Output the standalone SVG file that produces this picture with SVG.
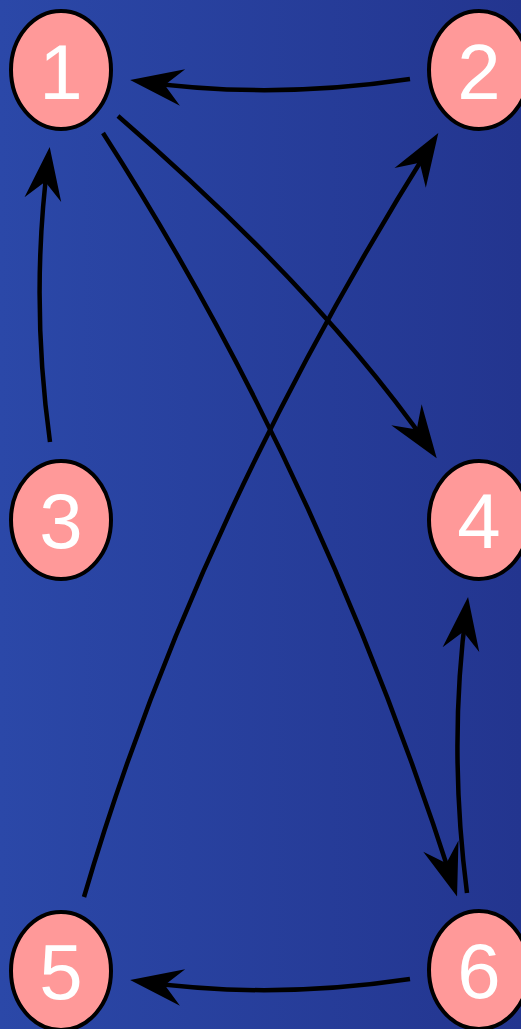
<svg xmlns="http://www.w3.org/2000/svg" width="521" height="1029" viewBox="0 0 521 1029">
<defs>
<linearGradient id="bg" x1="0" y1="0" x2="1" y2="0">
<stop offset="0" stop-color="#2b48a8"/>
<stop offset="1" stop-color="#23358f"/>
</linearGradient>
<marker id="arr" markerUnits="userSpaceOnUse" markerWidth="80" markerHeight="80" refX="0" refY="0" orient="auto" overflow="visible">
<path d="M10,0 L-43,-18.5 L-25,0 L-43,18.5 Z" fill="#000"/>
</marker>
<style>
.node ellipse{fill:#ff9999;stroke:#000;stroke-width:4}
.node text{fill:#fff;font-family:"Liberation Sans",Arial,sans-serif;font-size:78px;text-anchor:middle}
.edge{fill:none;stroke:#000;stroke-width:4.5;marker-end:url(#arr)}
</style>
</defs>
<rect x="0" y="0" width="521" height="1029" fill="url(#bg)"/>
<g id="connectors">
<path class="edge" d="M410,79 Q270,100 140,81.4"/>
<path class="edge" d="M50,442 Q30,298 48.4,157"/>
<path class="edge" d="M118,116 Q321.5,292.5 431,450"/>
<path class="edge" d="M103,133 Q321,472 454,887"/>
<path class="edge" d="M84,897 Q193,524 433,141.5"/>
<path class="edge" d="M467,893 Q448,745 466.7,607"/>
<path class="edge" d="M410,979 Q270,1000 140,981.5"/>
</g>
<g id="node1" class="node"><ellipse cx="61" cy="70" rx="50" ry="59"/><text x="61" y="99">1</text></g>
<g id="node2" class="node"><ellipse cx="479" cy="70" rx="50" ry="59"/><text x="479" y="99">2</text></g>
<g id="node3" class="node"><ellipse cx="61" cy="520" rx="50" ry="59"/><text x="61" y="548">3</text></g>
<g id="node4" class="node"><ellipse cx="479" cy="520" rx="50" ry="59"/><text x="479" y="548">4</text></g>
<g id="node5" class="node"><ellipse cx="61" cy="971" rx="50" ry="59"/><text x="61" y="999">5</text></g>
<g id="node6" class="node"><ellipse cx="479" cy="970" rx="50" ry="59"/><text x="479" y="998">6</text></g>
</svg>
